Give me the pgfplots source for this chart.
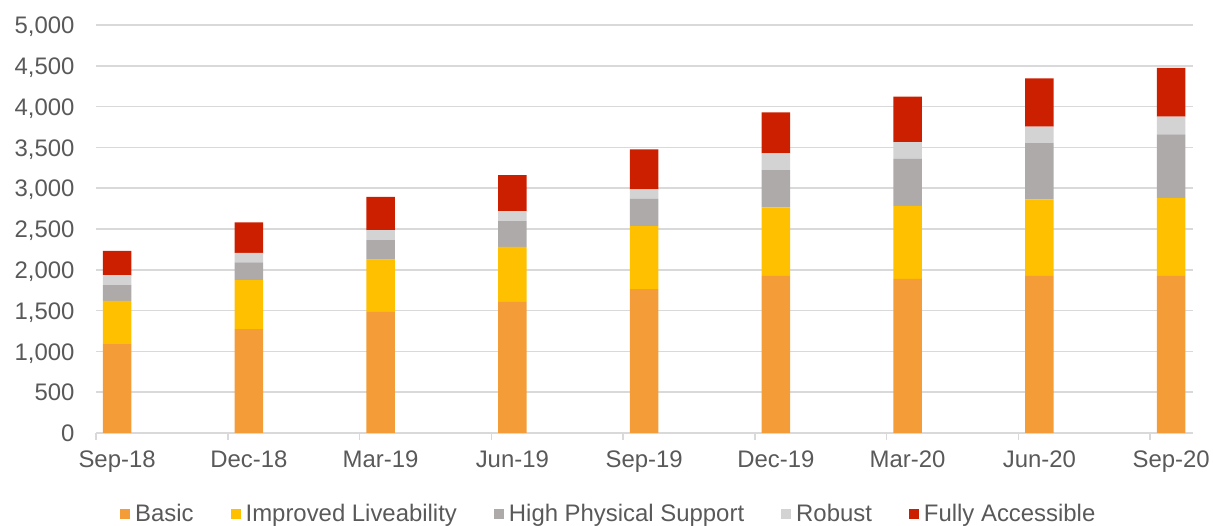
\documentclass[border=0pt]{standalone}
\usepackage{pgfplots}
\pgfplotsset{compat=1.18}
\usepackage{pgfplotstable}
\usepackage{fontspec}
\setmainfont{Liberation Sans}
\definecolor{cBasic}{HTML}{F39C38}
\definecolor{cImp}{HTML}{FFC000}
\definecolor{cHPS}{HTML}{AEAAAA}
\definecolor{cRob}{HTML}{D3D3D3}
\definecolor{cFA}{HTML}{CC1F00}
\definecolor{gridc}{HTML}{D9D9D9}
\definecolor{txt}{HTML}{595959}

\pgfplotstableread{
x     basic imp hps rob fa
0.16  1088  531 192 123 298
1.16  1272  601 217 118 372
2.16  1484  642 237 123 408
3.16  1607  674 315 123 441
4.16  1762  773 335 115 491
5.16  1925  839 458 204 503
6.16  1889  895 576 205 556
7.16  1925  937 691 202 591
8.16  1925  957 777 218 599
}\datatable

\begin{document}
\begin{tikzpicture}
\begin{axis}[
  at={(96bp,93bp)}, anchor=south west,
  scale only axis, width=1097bp, height=408bp,
  ybar stacked, bar width=28.5bp,
  xmin=0, xmax=8.326, ymin=0, ymax=5000,
  axis x line*=bottom, axis y line*=left,
  y axis line style={draw=none},
  x axis line style={gridc, line width=1.5bp},
  ytick={0,500,...,5000},
  ytick style={draw=none},
  ymajorgrids, grid style={gridc, line width=1.5bp},
  xtick={0.16,1.16,2.16,3.16,4.16,5.16,6.16,7.16,8.16},
  xticklabels={Sep-18,Dec-18,Mar-19,Jun-19,Sep-19,Dec-19,Mar-20,Jun-20,Sep-20},
  minor xtick={0,1,2,3,4,5,6,7,8},
  every major x tick/.append style={draw=none},
  every minor x tick/.append style={gridc, line width=1.5bp},
  xtick align=outside, xtick pos=bottom,
  minor tick length=7bp,
  /pgf/number format/assume math mode=true,
  /pgf/number format/1000 sep={,},
  scaled y ticks=false,
  tick label style={font=\fontsize{24}{28}\selectfont, text=txt},
  yticklabel style={text height=17.2bp, text depth=0bp, xshift=-18bp},
  xticklabel style={yshift=-10bp},
  legend columns=5,
  legend style={at={(0.467,-0.1985)}, anchor=center, draw=none, fill=none,
    font=\fontsize{24}{28}\selectfont, text=txt,
    nodes={inner sep=1bp},
    /tikz/every odd column/.append style={column sep=4bp},
    /tikz/every even column/.append style={column sep=36bp}},
  legend image code/.code={\path[#1,draw=none] (0bp,-5bp) rectangle (10bp,5bp);},
]
\addplot[fill=cBasic, draw=none] table[x=x,y=basic]{\datatable};
\addplot[fill=cImp, draw=none] table[x=x,y=imp]{\datatable};
\addplot[fill=cHPS, draw=none] table[x=x,y=hps]{\datatable};
\addplot[fill=cRob, draw=none] table[x=x,y=rob]{\datatable};
\addplot[fill=cFA, draw=none] table[x=x,y=fa]{\datatable};
\legend{Basic,Improved Liveability,High Physical Support,Robust,Fully Accessible}
\end{axis}
\pgfresetboundingbox
\path[use as bounding box] (0,0) rectangle (1213bp,526bp);
\end{tikzpicture}
\end{document}
